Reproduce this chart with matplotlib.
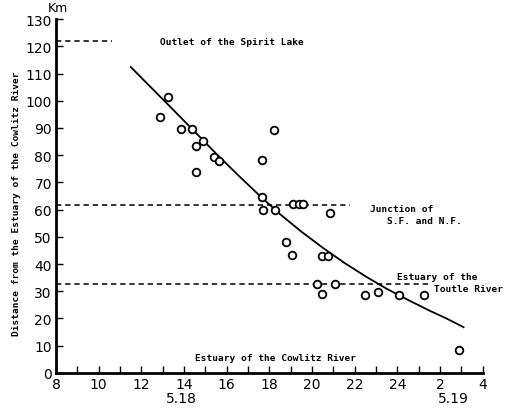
import numpy as np
import matplotlib
matplotlib.use("Agg")
import matplotlib.pyplot as plt

# observations: time (hours from 0:00 of 5.18) vs distance (km)
obs_t = [12.86, 13.23, 13.84, 14.36, 14.89, 14.54, 15.40, 15.65, 14.54, 18.21,
         17.67, 17.67, 17.68, 18.24, 19.09, 19.38, 19.58, 20.83, 18.79, 19.07,
         20.47, 20.73, 20.25, 21.06, 20.47, 22.48, 23.07, 24.05, 25.25, 26.89]
obs_km = [94.0, 101.4, 89.7, 89.7, 85.3, 83.3, 79.2, 77.8, 73.8, 89.2,
          78.4, 64.8, 59.8, 60.0, 62.1, 62.1, 62.1, 58.6, 48.2, 43.4,
          43.0, 43.0, 32.7, 32.6, 28.9, 28.8, 29.7, 28.7, 28.8, 8.6]

# fitted curve
curve_t = [11.5, 12.5, 13.5, 14.5, 15.5, 16.5, 17.6, 18.5, 19.5, 20.5, 21.5, 22.5, 23.5, 24.5, 25.5, 26.3, 27.1]
curve_km = [112.4, 104.5, 96.6, 88.6, 80.6, 72.9, 64.7, 58.3, 51.9, 46.0, 40.5, 35.5, 30.9, 26.8, 22.9, 20.0, 16.8]

# reference levels (km) and where their dashed lines stop (hour)
levels_km = [122.0, 61.7, 32.7]
levels_end = [10.6, 21.8, 25.5]

xticks = [8, 10, 12, 14, 16, 18, 20, 22, 24, 26, 28]
xticklabels = ["8", "10", "12", "14", "16", "18", "20", "22", "24", "2", "4"]
yticks = list(range(0, 131, 10))

mono = "DejaVu Sans Mono"

fig = plt.figure(figsize=(5.05, 4.10), dpi=100)
ax = fig.add_axes([0.111, 0.088, 0.845, 0.863])

for km, xe in zip(levels_km, levels_end):
    ax.plot([8, xe], [km, km], ls=(0, (3.5, 2.5)), color="k", lw=1.1, zorder=2)

ax.plot(curve_t, curve_km, color="k", lw=1.3, zorder=3)
ax.plot(obs_t, obs_km, "o", ms=5.5, mfc="white", mec="k", mew=1.3, zorder=4, clip_on=False)

ax.set_xlim(8, 28); ax.set_ylim(0, 130)
ax.set_xticks(xticks); ax.set_xticklabels(xticklabels)
ax.set_xticks(np.arange(8, 29, 1), minor=True)
ax.set_yticks(yticks)
ax.tick_params(axis="both", which="both", direction="in", length=5, width=1.0, labelsize=10, pad=3)
for s in ["top", "right"]:
    ax.spines[s].set_visible(False)
for s in ["left", "bottom"]:
    ax.spines[s].set_linewidth(2.0)

ax.set_ylabel("Distance from the Estuary of the Cowlitz River", family=mono, fontsize=6.8,
              fontweight="bold")
ax.yaxis.set_label_coords(-0.082, 0.48)
ax.text(7.6, 131.8, "Km", fontsize=9, va="bottom", ha="left", clip_on=False)

tk = dict(family=mono, fontsize=6.8, fontweight="bold", va="center", clip_on=False)
ax.text(12.86, 121.6, "Outlet of the Spirit Lake", **tk)
ax.text(22.7, 60.5, "Junction of", **tk)
ax.text(23.5, 56.0, "S.F. and N.F.", **tk)
ax.text(24.0, 35.3, "Estuary of the", **tk)
ax.text(25.7, 30.9, "Toutle River", **tk)
ax.text(14.51, 5.8, "Estuary of the Cowlitz River", **tk)

ax.text(13.89, -9.2, "5.18", ha="center", va="center", fontsize=10, clip_on=False)
ax.text(26.64, -9.2, "5.19", ha="center", va="center", fontsize=10, clip_on=False)

fig.savefig("out.png", dpi=100)
